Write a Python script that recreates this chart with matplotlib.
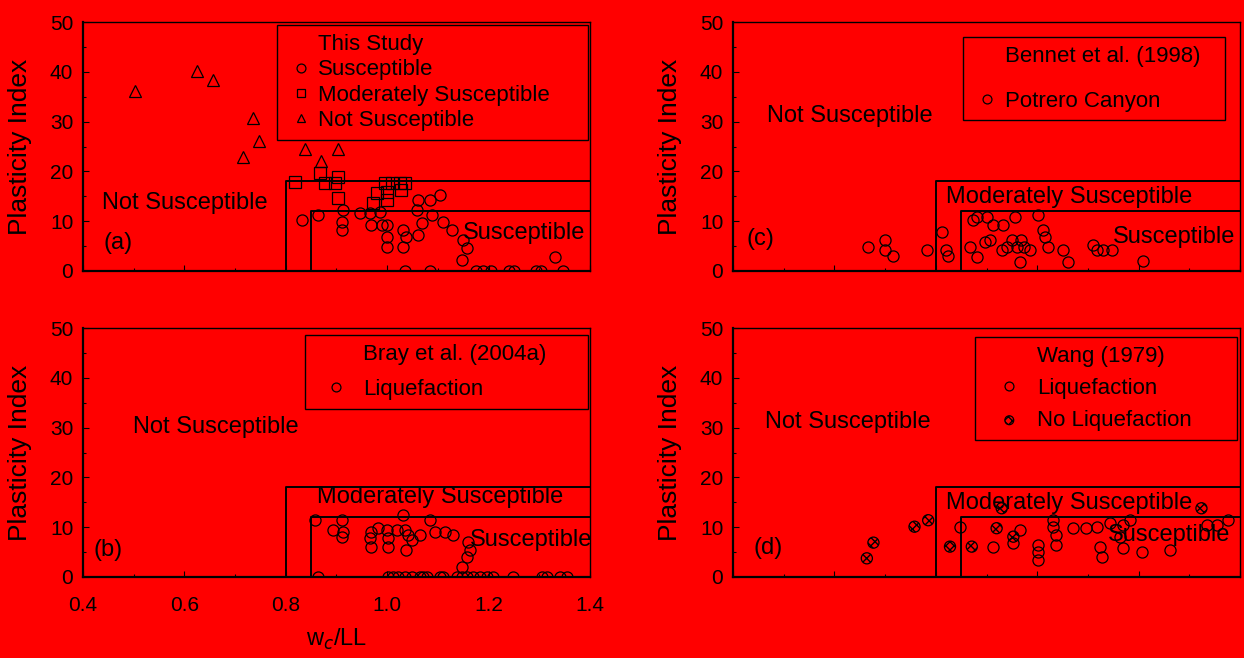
import numpy as np
import matplotlib.pyplot as plt
from matplotlib.lines import Line2D

plt.rcParams['font.family'] = ['Liberation Sans', 'DejaVu Sans']

# criteria thresholds (wc/LL and PI)
wc_mod = 0.80
wc_sus = 0.85
pi_mod = 18
pi_sus = 12

# (a) this study
a_sus_x = [0.831, 0.864, 0.91, 0.91, 0.913, 0.946, 0.966, 0.986, 0.969, 0.989, 1.0, 1.0, 1.0,
           1.032, 1.038, 1.032, 1.061, 1.084, 1.104, 1.061, 1.068, 1.058, 1.088, 1.111, 1.127,
           1.15, 1.157, 1.147, 1.331,
           1.035, 1.084, 1.176, 1.189, 1.205, 1.241, 1.251, 1.294, 1.304, 1.347]
a_sus_pi = [10.2, 11.2, 9.9, 8.2, 12.2, 11.6, 11.6, 11.8, 9.2, 9.2, 9.2, 6.9, 4.9,
            8.2, 6.9, 4.9, 14.3, 14.3, 15.3, 7.2, 9.6, 12.2, 11.2, 9.9, 8.2,
            6.2, 4.6, 2.2, 2.9,
            0, 0, 0, 0, 0, 0, 0, 0, 0, 0]
a_mod_x = [0.818, 0.867, 0.877, 0.897, 0.903, 0.996, 1.01, 1.025, 1.035, 0.979, 1.0, 1.028,
           1.0, 0.972, 0.903]
a_mod_pi = [17.9, 19.6, 17.7, 17.7, 18.9, 17.7, 17.7, 17.7, 17.7, 15.6, 15.9, 16.3,
            14.3, 13.7, 14.7]
a_not_x = [0.503, 0.625, 0.656, 0.735, 0.715, 0.747, 0.838, 0.903, 0.869]
a_not_pi = [36.1, 40.2, 38.4, 30.7, 22.9, 26.1, 24.5, 24.5, 22.1]

# (b) Bray et al. (2004a)
b_liq_x = [0.864, 0.858, 0.894, 0.91, 0.913, 0.91, 0.969, 0.966, 0.969, 0.982, 0.999, 1.002,
           1.002, 1.019, 1.032, 1.035, 1.042, 1.038, 1.048, 1.065, 1.084, 1.094, 1.114, 1.13,
           1.16, 1.163, 1.157, 1.147,
           1.002, 1.012, 1.022, 1.035, 1.048, 1.065, 1.07, 1.078, 1.104, 1.11, 1.137, 1.147,
           1.157, 1.17, 1.183, 1.196, 1.209, 1.249, 1.305, 1.315, 1.341, 1.354]
b_liq_pi = [0, 11.4, 9.4, 11.4, 9.1, 8.1, 9.1, 7.8, 6.1, 9.8, 9.4, 7.8,
            6.1, 9.4, 12.4, 9.4, 8.4, 5.4, 7.4, 8.4, 11.4, 9.1, 9.1, 8.4,
            7.1, 5.4, 4.1, 2.1,
            0, 0, 0, 0, 0, 0, 0, 0, 0, 0, 0, 0,
            0, 0, 0, 0, 0, 0, 0, 0, 0, 0]

# (c) Bennet et al. (1998)
c_pot_x = [0.667, 0.70, 0.70, 0.716, 0.782, 0.812, 0.82, 0.825, 0.874, 0.881, 0.90, 0.913,
           0.933, 0.956, 1.002, 0.867, 0.881, 0.897, 0.907, 0.93, 0.94, 0.95, 0.96, 0.969,
           0.973, 0.986, 0.966, 1.012, 1.015, 1.022, 1.051, 1.061, 1.111, 1.117, 1.13, 1.147,
           1.209]
c_pot_pi = [4.9, 6.2, 4.2, 3.0, 4.2, 7.9, 4.2, 3.0, 10.2, 10.9, 10.9, 9.2,
            9.2, 10.9, 11.2, 4.9, 2.9, 5.9, 6.2, 4.2, 4.9, 6.2, 4.9, 6.2,
            4.9, 4.2, 1.9, 8.2, 6.9, 4.9, 4.2, 1.9, 5.2, 4.2, 4.2, 4.2,
            2.1]

# (d) Wang (1979)
d_liq_x = [0.913, 0.966, 0.953, 1.002, 1.002, 1.002, 0.848, 1.031, 1.038, 1.038, 1.031,
           1.071, 1.097, 1.117, 1.124, 1.127, 1.143, 1.17, 1.163, 1.17, 1.183, 1.206, 1.262,
           1.334, 1.354, 1.377]
d_liq_pi = [6.1, 9.4, 6.8, 6.4, 5.1, 3.4, 10.1, 10.1, 8.4, 6.4, 11.4,
            9.8, 9.8, 10.1, 6.1, 4.1, 10.8, 10.4, 8.1, 5.8, 11.4, 5.1, 5.4,
            10.4, 10.4, 11.4]
d_noliq_x = [0.664, 0.677, 0.758, 0.785, 0.828, 0.871, 0.92, 0.93, 0.953, 1.324]
d_noliq_pi = [3.75, 6.9, 10.1, 11.4, 6.1, 6.1, 9.8, 13.8, 8.1, 13.8]

bg = '#ff0000'
fs = 17      # region text
fs_leg = 16
fs_tick = 15

fig = plt.figure(figsize=(12.44, 6.58), dpi=100, facecolor=bg)
W, H = 1244, 658
ax_a = fig.add_axes([83 / W, 1 - 271 / H, 507 / W, 249 / H])
ax_b = fig.add_axes([83 / W, 1 - 577 / H, 507 / W, 249 / H])
ax_c = fig.add_axes([733 / W, 1 - 271 / H, 507 / W, 249 / H])
ax_d = fig.add_axes([733 / W, 1 - 577 / H, 507 / W, 249 / H])

mk = dict(linestyle='none', markerfacecolor='none', markeredgecolor='black',
          markeredgewidth=0.9, markersize=8)
leg_kw = dict(loc='upper left', mode='expand', fontsize=fs_leg, frameon=True, fancybox=False,
              edgecolor='black', facecolor=bg, framealpha=1, markerscale=0.8,
              borderaxespad=0, borderpad=0.4)

for ax in (ax_a, ax_b, ax_c, ax_d):
    ax.set_facecolor(bg)
    ax.set_xlim(0.4, 1.4)
    ax.set_ylim(0, 50)
    ax.set_xticks(np.arange(0.4, 1.41, 0.2))
    ax.set_xticks(np.arange(0.5, 1.4, 0.2), minor=True)
    ax.set_yticks(np.arange(0, 51, 10))
    ax.set_yticks(np.arange(5, 50, 10), minor=True)
    ax.tick_params(which='both', direction='in', top=False, right=False,
                   labelsize=fs_tick, colors='black', width=0.8)
    ax.tick_params(which='major', length=4)
    ax.tick_params(which='minor', length=2)
    ax.tick_params(axis='y', pad=7)
    ax.tick_params(axis='x', pad=14)
    for s in ax.spines.values():
        s.set_linewidth(1.0)
    ax.spines['left'].set_linewidth(1.6)
    ax.spines['bottom'].set_linewidth(1.6)
    ax.set_ylabel('Plasticity Index', fontsize=19)
    ax.yaxis.set_label_coords(-0.1, 0.5)
    # criteria boxes
    ax.plot([wc_mod, wc_mod, 1.4], [0, pi_mod, pi_mod], color='black', lw=1.4)
    ax.plot([wc_sus, wc_sus, 1.4], [0, pi_sus, pi_sus], color='black', lw=1.4)
    ax.xaxis.set_major_formatter(plt.FormatStrFormatter('%.1f'))

for ax in (ax_a, ax_c, ax_d):
    ax.tick_params(axis='x', labelbottom=False)
ax_b.set_xlabel(r'w$_c$/LL', fontsize=fs, labelpad=8)

blank = Line2D([], [], linestyle='none')

# (a)
h1, = ax_a.plot(a_sus_x, a_sus_pi, marker='o', **mk)
h2, = ax_a.plot(a_mod_x, a_mod_pi, marker='s', **mk)
h3, = ax_a.plot(a_not_x, a_not_pi, marker='^', **mk)
ax_a.legend([blank, h1, h2, h3], ['This Study', 'Susceptible', 'Moderately Susceptible', 'Not Susceptible'],
            bbox_to_anchor=(0.383, 0.55, 0.613, 0.438), labelspacing=0.2, handlelength=1.3,
            handletextpad=0.15, **leg_kw)
ax_a.text(0.437, 13.6, 'Not Susceptible', fontsize=fs, va='center')
ax_a.text(1.15, 7.6, 'Susceptible', fontsize=fs, va='center')
ax_a.text(0.44, 5.6, '(a)', fontsize=fs, va='center')

# (b)
h1, = ax_b.plot(b_liq_x, b_liq_pi, marker='o', **mk)
ax_b.legend([blank, h1], ['Bray et al. (2004a)', 'Liquefaction'],
            bbox_to_anchor=(0.438, 0.7, 0.558, 0.272), labelspacing=0.62, handlelength=2.0,
            handletextpad=0.2, **leg_kw)
ax_b.text(0.499, 30.1, 'Not Susceptible', fontsize=fs, va='center')
ax_b.text(0.862, 16.1, 'Moderately Susceptible', fontsize=fs, va='center')
ax_b.text(1.163, 7.4, 'Susceptible', fontsize=fs, va='center')
ax_b.text(0.42, 5.4, '(b)', fontsize=fs, va='center')

# (c)
h1, = ax_c.plot(c_pot_x, c_pot_pi, marker='o', **mk)
ax_c.legend([blank, h1], ['Bennet et al. (1998)', 'Potrero Canyon'],
            bbox_to_anchor=(0.454, 0.6, 0.517, 0.34), labelspacing=1.07, handlelength=1.3,
            handletextpad=0.2, **leg_kw)
ax_c.text(0.467, 31.1, 'Not Susceptible', fontsize=fs, va='center')
ax_c.text(0.82, 14.9, 'Moderately Susceptible', fontsize=fs, va='center')
ax_c.text(1.15, 6.8, 'Susceptible', fontsize=fs, va='center')
ax_c.text(0.426, 6.4, '(c)', fontsize=fs, va='center')

# (d)
h1, = ax_d.plot(d_liq_x, d_liq_pi, marker='o', **mk)
h2 = ax_d.scatter(d_noliq_x, d_noliq_pi, s=64, facecolor='none', edgecolor='black',
                  linewidths=0.9, hatch='xxxx', zorder=3)
ax_d.legend([blank, h1, h2], ['Wang (1979)', 'Liquefaction', 'No Liquefaction'],
            bbox_to_anchor=(0.477, 0.55, 0.517, 0.414), labelspacing=0.5, handlelength=2.3,
            handletextpad=0.1, **leg_kw)
ax_d.text(0.463, 31.1, 'Not Susceptible', fontsize=fs, va='center')
ax_d.text(0.82, 14.9, 'Moderately Susceptible', fontsize=fs, va='center')
ax_d.text(1.14, 8.4, 'Susceptible', fontsize=fs, va='center')
ax_d.text(0.44, 5.8, '(d)', fontsize=fs, va='center')

fig.savefig('out.png', dpi=100, facecolor=bg)
